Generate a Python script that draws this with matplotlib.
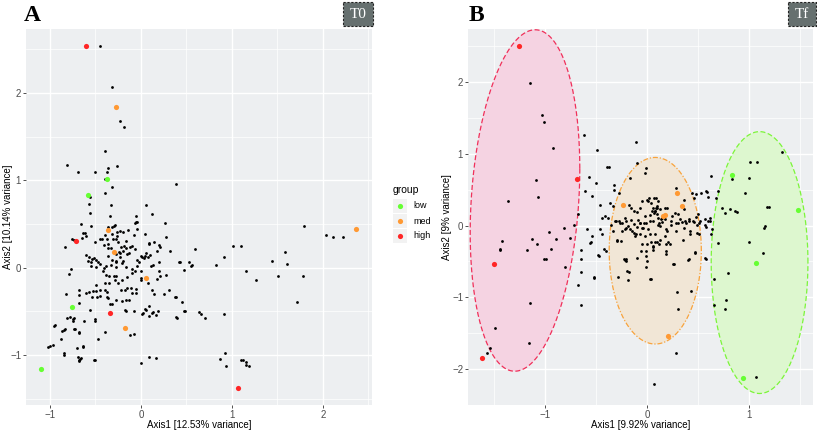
import numpy as np
import matplotlib
matplotlib.use("Agg")
import matplotlib.pyplot as plt
from matplotlib.patches import Rectangle

# ---------------- data: panel A (T0) ----------------
a_black = [
(-0.45,2.54),(-0.32,2.07),(-0.23,1.68),(-0.19,1.61),(-0.39,1.33),(-0.81,1.17),(-0.69,1.09),(-0.51,1.10),
(-0.37,1.09),(-0.36,1.14),(-0.26,1.16),(-0.39,1.02),(0.38,0.96),(-0.32,0.92),(-0.56,0.81),(-0.39,0.85),
(-0.57,0.73),(-0.33,0.72),(0.05,0.72),(0.12,0.61),(-0.56,0.63),(-0.34,0.59),(-0.06,0.59),
(-0.66,0.50),(-0.36,0.47),(-0.32,0.47),(-0.29,0.49),(-0.06,0.52),(0.26,0.51),(-0.76,0.33),(-0.74,0.32),
(-0.83,0.24),(0.27,0.35),(0.04,0.38),(-0.62,0.40),(-0.60,0.36),(-0.51,0.29),(-0.45,0.33),(1.01,0.25),
(1.10,0.25),(0.59,0.21),(0.32,0.19),(0.20,0.26),(1.58,0.18),(1.79,0.48),(2.03,0.37),(2.11,0.35),
(2.22,0.35),(1.44,0.08),(1.61,0.04),(0.43,0.06),(0.53,0.07),(0.55,0.02),(0.83,0.03),(0.91,0.12),
(0.47,-0.03),(1.15,-0.04),(1.51,-0.10),(1.78,-0.10),(1.26,-0.14),(1.71,-0.39),(0.64,-0.51),(0.66,-0.53),
(0.70,-0.58),(0.91,-0.53),(0.47,-0.50),(0.40,-0.57),(0.37,-0.34),(0.25,-0.30),(0.31,-0.26),(0.19,-0.49),
(0.16,-0.54),(0.12,-0.52),(0.05,-0.48),(0.02,-0.52),(-0.12,-0.77),(-0.08,-0.76),(-0.39,-0.73),(-0.47,-0.82),
(-0.56,-0.48),(-0.50,-0.59),(-0.82,-0.30),(-0.78,-0.56),(-0.75,-0.61),(-0.74,-0.58),(-0.74,-0.70),(-0.68,-0.74),
(-0.96,-0.67),(-0.94,-0.66),(-0.87,-0.72),(-0.85,-0.71),(-0.88,-0.81),(-1.02,-0.91),(-1.00,-0.89),(-0.97,-0.88),
(-0.85,-0.98),(-0.70,-0.92),(-0.64,-0.89),(-0.69,-1.02),(-0.67,-1.04),(-0.66,-1.03),(-0.52,-1.05),(0.00,-1.09),
(0.09,-1.02),(0.16,-1.03),(0.87,-1.04),(0.92,-0.97),(0.93,-1.12),(1.10,-1.06),(1.12,-1.05),(1.15,-1.08),
(1.16,-1.11),(1.19,-1.12),
(-0.55,0.48),(-0.30,0.48),(-0.26,0.41),(-0.23,0.42),(-0.20,0.41),(-0.14,0.43),(-0.04,0.52),(-0.07,0.51),
(-0.04,0.44),(-0.64,0.40),(-0.65,0.34),(-0.43,0.33),(-0.39,0.37),(-0.37,0.33),(-0.32,0.39),(-0.31,0.33),
(-0.28,0.33),(-0.26,0.36),(-0.25,0.29),(-0.36,0.27),(-0.41,0.26),(-0.36,0.23),(-0.33,0.22),(-0.22,0.24),
(-0.19,0.25),(-0.16,0.31),(-0.16,0.22),(-0.20,0.19),(-0.24,0.18),(-0.23,0.17),(-0.27,0.16),(-0.12,0.24),
(-0.10,0.25),(-0.07,0.21),(-0.13,0.17),(-0.15,0.16),(0.03,0.11),(0.00,0.13),(-0.04,0.09),(-0.08,0.37),
(0.06,0.17),(0.09,0.27),(0.08,0.12),(-0.60,0.14),(-0.57,0.12),(-0.54,0.10),(-0.52,0.11),(-0.49,0.09),
(-0.58,0.08),(-0.36,0.13),(-0.32,0.09),(-0.28,0.06),(-0.23,0.12),(-0.20,0.08),
(-0.55,0.07),(-0.55,0.02),(-0.49,0.01),(-0.47,0.06),(-0.45,0.04),(-0.41,0.00),(-0.38,0.02),(-0.33,0.03),
(-0.28,0.01),(-0.27,0.08),(-0.21,0.05),(-0.17,0.01),(-0.10,-0.02),(-0.04,0.02),(-0.02,0.07),(0.00,-0.14),
(0.08,-0.18),(-0.79,-0.07),(-0.77,-0.02),(-0.42,-0.04),(-0.38,-0.08),(-0.35,-0.10),(-0.30,-0.09),(-0.27,-0.09),
(-0.29,-0.14),(-0.25,-0.18),(-0.21,-0.14),(-0.15,-0.11),(-0.10,-0.06),(-0.07,-0.04),(-0.40,-0.18),(-0.35,-0.18),
(-0.49,-0.20),(-0.68,-0.25),(-0.68,-0.31),(-0.60,-0.29),(-0.57,-0.28),(-0.53,-0.27),(-0.49,-0.27),(-0.45,-0.26),
(-0.40,-0.25),(-0.54,-0.33),(-0.48,-0.33),(-0.45,-0.32),(-0.37,-0.28),(-0.37,-0.33),(-0.36,-0.35),(-0.34,-0.42),
(-0.32,-0.42),(-0.27,-0.37),(-0.22,-0.25),(-0.18,-0.26),(-0.15,-0.23),(-0.11,-0.23),(-0.10,-0.29),(-0.06,-0.24),
(-0.05,-0.29),(-0.21,-0.38),(-0.16,-0.37),(-0.13,-0.37),(-0.18,-0.48),(-0.17,-0.50),(-0.08,-0.50),(0.04,-0.47),
(0.01,-0.53),(0.09,-0.44),(-0.81,-0.58),(-0.75,-0.59),(-0.63,-0.61),(-0.50,-0.61),(-0.84,-0.70),(-0.72,-0.70),
(-0.68,-0.75),(-0.64,-0.91),(-0.85,-1.00),(-0.68,-1.05),(-0.68,-1.07),(-0.51,-1.06),(-0.68,-0.40),
(0.09,0.28),(0.14,0.29),(0.21,0.24),(0.18,0.19),(0.01,0.12),(0.04,0.13),(0.10,0.14),(0.20,0.07),
(0.13,0.03),(0.11,0.02),(0.42,0.06),(0.56,0.03),(0.00,-0.04),(0.20,-0.04),(0.21,-0.09),(0.28,-0.08),
(0.18,-0.13),(0.00,-0.12),(0.12,-0.25),(0.14,-0.30),(0.38,-0.34),(0.45,-0.39),(0.09,-0.55),(0.13,-0.51),
(0.39,-0.56),(0.48,-0.50),
]
a_low = [(-0.37,1.02),(-0.58,0.83),(-0.76,-0.45),(-1.10,-1.16)]
a_med = [(-0.28,1.84),(-0.36,0.43),(-0.30,0.18),(0.05,-0.12),(-0.18,-0.69),(2.36,0.44)]
a_high = [(-0.60,2.53),(-0.71,0.31),(-0.34,-0.52),(1.07,-1.38)]

# ---------------- data: panel B (Tf) ----------------
b_black = [
(-1.15,1.99),(-1.03,1.54),(-1.01,1.44),(-0.92,1.08),(-1.09,0.63),(-1.07,0.40),(-1.37,0.34),(-0.62,1.26),
(-0.49,1.05),(-0.11,1.16),(-0.39,0.81),(-0.37,0.82),(-0.57,0.68),(-0.50,0.59),(-0.61,0.48),(-0.54,0.41),
(-0.33,0.56),(-0.33,0.49),(-0.17,0.66),(-0.10,0.87),(-0.01,0.80),(-0.02,0.74),(-0.28,0.45),(-0.68,0.16),
(-0.46,0.29),(0.63,0.69),(0.28,0.52),(0.58,0.48),(0.59,0.47),(0.60,0.40),(0.53,0.45),(0.48,0.44),
(0.70,0.48),(0.83,0.65),(1.00,0.67),(1.01,0.89),(1.08,0.89),(1.33,1.03),(0.96,0.45),(1.18,0.26),
(1.20,0.26),(0.74,0.24),(0.81,0.23),(0.86,0.20),(0.88,0.19),(0.77,0.18),
(-0.41,0.13),(-0.44,0.11),(-0.72,0.01),(-0.82,-0.03),(-0.76,-0.17),(-0.96,-0.09),(-0.90,-0.19),(-0.94,-0.33),
(-1.01,-0.46),(-0.99,-0.46),(-1.08,-0.26),(-1.13,-0.19),(-1.18,-0.34),(-1.43,-0.22),(-1.45,-0.33),(-1.45,-0.34),
(-0.81,-0.58),(-0.65,-0.34),(-0.65,-0.46),(-0.65,-0.65),(-0.68,-0.83),(-0.65,-1.10),(-1.15,-1.08),(-1.49,-1.43),
(-1.16,-1.64),(-1.54,-1.71),(-1.57,-1.78),(-0.52,-0.73),(-0.56,-0.24),(-0.48,-0.41),(-0.46,-0.05),(-0.42,-0.32),
(-0.40,-0.35),(-0.30,-0.20),(-0.29,-0.71),(-0.20,-0.63),(-0.19,-0.76),(-0.23,-0.47),(-0.21,-0.46),(-0.10,-0.45),
(-0.01,-0.35),(-0.01,-0.43),(0.03,-0.74),(0.06,-0.29),(0.08,-0.23),(0.19,-0.35),(0.19,-0.26),(0.26,-0.53),
(0.41,-0.46),(0.29,-0.92),(0.30,-1.16),(0.28,-1.78),(0.07,-2.21),(0.47,-0.38),(0.58,-0.46),(0.66,-0.74),
(0.66,-1.11),(0.70,-0.24),(0.79,-0.66),(0.77,-1.16),(0.78,-1.04),(1.00,-0.23),(1.14,-0.38),(1.15,-0.04),
(1.16,-0.01),(1.07,-2.11),(0.62,0.07),(0.57,0.01),(0.60,0.07),
(-0.36,0.31),(-0.34,0.27),(-0.05,0.34),(0.00,0.35),(0.02,0.38),(-0.18,0.29),(-0.16,0.24),(-0.13,0.21),
(-0.10,0.19),(-0.07,0.25),(0.07,0.39),(0.04,0.32),(0.09,0.25),(0.10,0.24),(0.08,0.21),(0.07,0.18),
(0.03,0.15),(-0.38,0.11),(-0.32,0.07),(-0.27,0.04),(-0.22,0.11),(-0.16,0.08),(-0.09,0.08),(-0.07,0.03),
(-0.01,0.04),(0.03,0.06),(-0.59,-0.05),(-0.22,-0.05),(-0.15,-0.08),(-0.11,-0.12),(-0.04,-0.03),
(0.44,0.46),(0.46,0.39),(0.68,0.39),(0.36,0.35),(0.36,0.23),(0.01,0.34),(0.09,0.38),(0.11,0.34),
(0.06,0.25),(0.10,0.27),(0.13,0.23),(0.18,0.25),(0.20,0.25),(0.05,0.21),(0.08,0.20),(0.10,0.16),
(0.14,0.09),(0.15,0.10),(0.12,0.04),(0.15,0.05),(0.11,0.01),(0.13,0.00),(0.24,0.13),(0.27,0.18),
(0.30,0.16),(0.32,0.09),(0.37,0.06),(0.41,0.09),(0.45,0.06),(0.48,0.12),(0.50,0.16),(0.51,0.04),
(0.57,0.09),(0.62,0.11),(-0.02,0.13),(-0.05,-0.03),(0.01,-0.05),(0.19,-0.05),(0.23,0.01),(0.28,-0.08),
(0.36,-0.03),(0.42,-0.08),(0.64,-0.05),(0.63,-0.12),
(-0.47,-0.42),(-0.52,-0.72),(-0.54,-0.14),(-0.55,-0.23),(-0.44,-0.12),(-0.35,0.01),(-0.34,-0.07),(-0.30,-0.22),
(-0.26,-0.21),(-0.31,0.06),(-0.28,0.07),(-0.25,0.04),(-0.21,0.06),(-0.19,0.00),(-0.17,-0.05),(-0.25,-0.07),
(-0.21,-0.03),(-0.13,0.02),(-0.10,-0.02),(-0.07,0.04),(-0.03,0.03),(-0.13,-0.10),(-0.12,-0.14),(-0.07,-0.12),
(-0.02,-0.14),(0.03,-0.11),(0.08,-0.12),(0.10,-0.23),(0.13,-0.20),(-0.05,-0.25),(-0.06,-0.35),(0.00,-0.25),
(0.04,-0.23),(0.06,-0.30),(0.06,-0.34),(0.12,-0.25),(0.18,-0.14),(0.20,-0.07),(0.21,-0.23),(0.19,-0.40),
(0.22,-0.26),(-0.22,-0.48),(-0.21,-0.50),(-0.18,-0.64),(0.00,-0.50),(-0.01,-0.57),(0.04,-0.74),(0.25,-0.54),
(0.35,-0.20),(0.40,-0.48),(0.42,-0.12),(0.47,-0.37),(0.49,-0.10),(0.51,-0.12),(0.57,-0.45),(0.43,-0.91),
(0.30,0.04),(0.34,0.05),(0.38,0.03),(0.41,0.06),(0.46,0.05),(0.49,0.01),(0.52,0.06),(0.58,-0.02),
(0.06,0.06),(0.11,0.11),(0.18,0.09),(0.23,0.06),(0.28,0.03),
]
b_low = [(0.83,0.71),(1.48,0.22),(1.07,-0.52),(0.94,-2.13)]
b_med = [(-0.24,0.29),(0.29,0.46),(0.34,0.27),(0.16,0.14),(0.18,0.15),(0.21,-1.54)]
b_high = [(-1.26,2.51),(-0.69,0.65),(-1.50,-0.53),(-1.62,-1.85)]

# ellipse shape per group in panel B: centre, (sxx, sxy, syy)
ell_high = ((-1.20, 0.35), (0.29, 0.24, 5.66))
ell_med = ((0.08, -0.35), (0.205, 0.0, 1.69))
ell_low = ((1.105, -0.515), (0.226, 0.0, 3.33))

groups = ["low", "med", "high"]
col = {"low": "#66FF33", "med": "#FF9933", "high": "#FF2626"}
ell_line = {"low": "#7CF53A", "med": "#F8A33C", "high": "#F0305A"}
ell_fill = {"low": "#DDF7CF", "med": "#F1E6D6", "high": "#F5D3E2"}

PANEL_BG = "#EDEFF1"

fig = plt.figure(figsize=(8.17, 4.30), dpi=100)
W, H = 817, 430

def axes_px(l, t, r, b):
    return fig.add_axes([l / W, 1 - b / H, (r - l) / W, (b - t) / H])

axA = axes_px(26, 29, 372, 405)
axB = axes_px(468, 29, 813, 405)

def style(ax, xlim, ylim, xt, yt, xminor, yminor):
    ax.set_facecolor(PANEL_BG)
    ax.set_xlim(*xlim); ax.set_ylim(*ylim)
    ax.set_xticks(xt); ax.set_yticks(yt)
    ax.set_xticks(xminor, minor=True); ax.set_yticks(yminor, minor=True)
    ax.grid(True, which="major", color="white", lw=1.0)
    ax.grid(True, which="minor", color="white", lw=0.5)
    ax.set_axisbelow(True)
    for s in ax.spines.values():
        s.set_visible(False)
    ax.tick_params(which="major", length=2.5, width=0.6, color="#333333",
                   labelsize=7, labelcolor="#4D4D4D", pad=1.0)
    ax.tick_params(which="minor", length=0)

style(axA, (-1.264, 2.54), (-1.57, 2.73), [-1, 0, 1, 2], [-1, 0, 1, 2],
      [-0.5, 0.5, 1.5, 2.5], [-1.5, -0.5, 0.5, 1.5, 2.5])
style(axB, (-1.76, 1.63), (-2.44, 2.74), [-1, 0, 1], [-2, -1, 0, 1, 2],
      [-1.5, -0.5, 0.5, 1.5], [-2.5, -1.5, -0.5, 0.5, 1.5, 2.5])

lab_font = dict(family="Liberation Sans", size=7.0, color="black")
axA.set_xlabel("Axis1 [12.53% variance]", **lab_font)
axA.set_ylabel("Axis2 [10.14% variance]", **lab_font)
axB.set_xlabel("Axis1 [9.92% variance]", **lab_font)
axB.set_ylabel("Axis2 [9% variance]", **lab_font)
axA.yaxis.set_label_coords(-13 / 346, 0.5)
axB.yaxis.set_label_coords(-16 / 345, 0.5)
axA.xaxis.set_label_coords(0.5, -14.5 / 376)
axB.xaxis.set_label_coords(0.5, -14.5 / 376)
for ax in (axA, axB):
    for lb in ax.get_xticklabels() + ax.get_yticklabels():
        lb.set_family("Liberation Sans")

# ellipses
t = np.linspace(0, 2 * np.pi, 400)
for g, (c, s) in (("high", ell_high), ("med", ell_med), ("low", ell_low)):
    S = np.array([[s[0], s[1]], [s[1], s[2]]])
    L = np.linalg.cholesky(S)
    pts = np.array(c)[:, None] + L @ np.vstack([np.cos(t), np.sin(t)])
    axB.fill(pts[0], pts[1], color=ell_fill[g], zorder=1, lw=0)
    ls = (0, (4, 2)) if g != "med" else (0, (4, 1.5, 1, 1.5))
    axB.plot(pts[0], pts[1], color=ell_line[g], lw=0.9, ls=ls, zorder=2)

def scatter(ax, black, low, med, high):
    xb, yb = zip(*black)
    ax.scatter(xb, yb, s=4, c="black", lw=0, zorder=3)
    for g, pts in (("low", low), ("med", med), ("high", high)):
        x, y = zip(*pts)
        ax.scatter(x, y, s=14, c=col[g], lw=0, zorder=4)

scatter(axA, a_black, a_low, a_med, a_high)
scatter(axB, b_black, b_low, b_med, b_high)

# overlay axes in pixel coordinates for annotations
ov = fig.add_axes([0, 0, 1, 1], facecolor="none", zorder=10)
ov.set_xlim(0, W); ov.set_ylim(H, 0); ov.axis("off")

ov.text(24, 21, "A", family="Liberation Serif", weight="bold", size=17)
ov.text(469, 21, "B", family="Liberation Serif", weight="bold", size=17)

for x0, x1, txt in ((343, 373, "T0"), (788, 816, "Tf")):
    ov.add_patch(Rectangle((x0, 2), x1 - x0, 24, fc="#66706F", ec="#222222",
                           lw=0.8, ls=(0, (2, 1.5))))
    ov.text((x0 + x1) / 2, 14, txt, color="white", family="Liberation Serif",
            size=11, ha="center", va="center")

ov.text(393, 190, "group", family="Liberation Sans", size=7.5, va="center")
for i, g in enumerate(groups):
    yc = 206 + i * 15
    ov.add_patch(Rectangle((393, yc - 7), 14, 14, fc="#F2F2F2", ec="none"))
    ov.scatter([400], [yc], s=14, c=col[g], lw=0, zorder=3)
    ov.text(413, yc, g, family="Liberation Sans", size=6.5, va="center")

fig.savefig("out.png", dpi=100)
